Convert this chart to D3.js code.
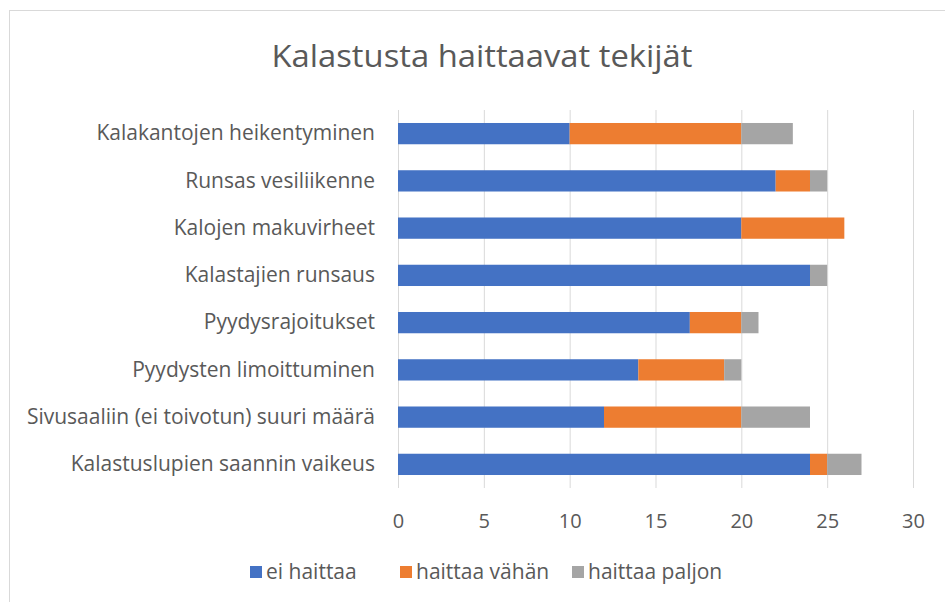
<!DOCTYPE html>
<html><head><meta charset="utf-8">
<script src="https://cdn.jsdelivr.net/npm/d3@7"></script>
<style>body{margin:0;background:#fff}svg{display:block;font-family:"Open Sans",sans-serif}</style>
</head><body><svg id="c" width="945" height="602"></svg>
<script>
const categories = ["Kalakantojen heikentyminen","Runsas vesiliikenne","Kalojen makuvirheet","Kalastajien runsaus","Pyydysrajoitukset","Pyydysten limoittuminen","Sivusaaliin (ei toivotun) suuri määrä","Kalastuslupien saannin vaikeus"];
const eiHaittaa = [10,22,20,24,17,14,12,24];
const haittaaVahan = [10,2,6,0,3,5,8,1];
const haittaaPaljon = [3,1,0,1,1,1,4,2];
const seriesNames = ["ei haittaa","haittaa vähän","haittaa paljon"];
const colors = ["#4472C4","#ED7D31","#A5A5A5"];
const xTicks = [0,5,10,15,20,25,30];
const title = "Kalastusta haittaavat tekijät";

const svg = d3.select("#c");
svg.append("rect").attr("x",9.5).attr("y",10.5).attr("width",1000).attr("height",1000)
  .attr("fill","#fff").attr("stroke","#d9d9d9").attr("stroke-width",1);

const x = d3.scaleLinear().domain([0,30]).range([398,913]);
const y = d3.scaleBand().domain(categories).range([110,488]).paddingInner(0.55).paddingOuter(0.275);

svg.append("text").attr("x",482).attr("y",67).attr("text-anchor","middle")
  .attr("fill","#595959").style("font-size","31px").style("font-weight","400")
  .attr("textLength",421).attr("lengthAdjust","spacingAndGlyphs").text(title);

// gridlines
svg.append("g").selectAll("line").data(xTicks).join("line")
  .attr("x1",d=>x(d)+0.5).attr("x2",d=>x(d)+0.5).attr("y1",110).attr("y2",488)
  .attr("stroke","#d9d9d9").attr("stroke-width",1);

const table = categories.map((c,i)=>({c, v:[eiHaittaa[i],haittaaVahan[i],haittaaPaljon[i]]}));
const stack = d3.stack().keys([0,1,2]).value((d,k)=>d.v[k])(table);

svg.append("g").selectAll("g").data(stack).join("g").attr("fill",(d,i)=>colors[i])
  .selectAll("rect").data(d=>d).join("rect")
  .attr("x",d=>x(d[0])).attr("width",d=>x(d[1])-x(d[0]))
  .attr("y",d=>y(d.data.c)).attr("height",y.bandwidth());

// category axis
const yAxis = d3.axisLeft(y).tickSize(0).tickPadding(23);
const gy = svg.append("g").attr("transform","translate(398,0)").call(yAxis);
gy.select(".domain").remove();
gy.selectAll("text").attr("fill","#595959").style("font-size","21px").style("font-family","'Open Sans',sans-serif");

// value axis
const xAxis = d3.axisBottom(x).tickValues(xTicks).tickSize(0).tickPadding(26);
const gx = svg.append("g").attr("transform","translate(0,488)").call(xAxis);
gx.select(".domain").remove();
gx.selectAll("text").attr("fill","#595959").style("font-size","20px").style("font-family","'Open Sans',sans-serif");

// legend
const legX = [250,400,572];
const lg = svg.append("g").selectAll("g").data(seriesNames).join("g")
  .attr("transform",(d,i)=>`translate(${legX[i]},566)`);
lg.append("rect").attr("width",12).attr("height",12).attr("fill",(d,i)=>colors[i]);
lg.append("text").attr("x",16).attr("y",13).attr("fill","#595959").style("font-size","21px").text(d=>d);
</script></body></html>
